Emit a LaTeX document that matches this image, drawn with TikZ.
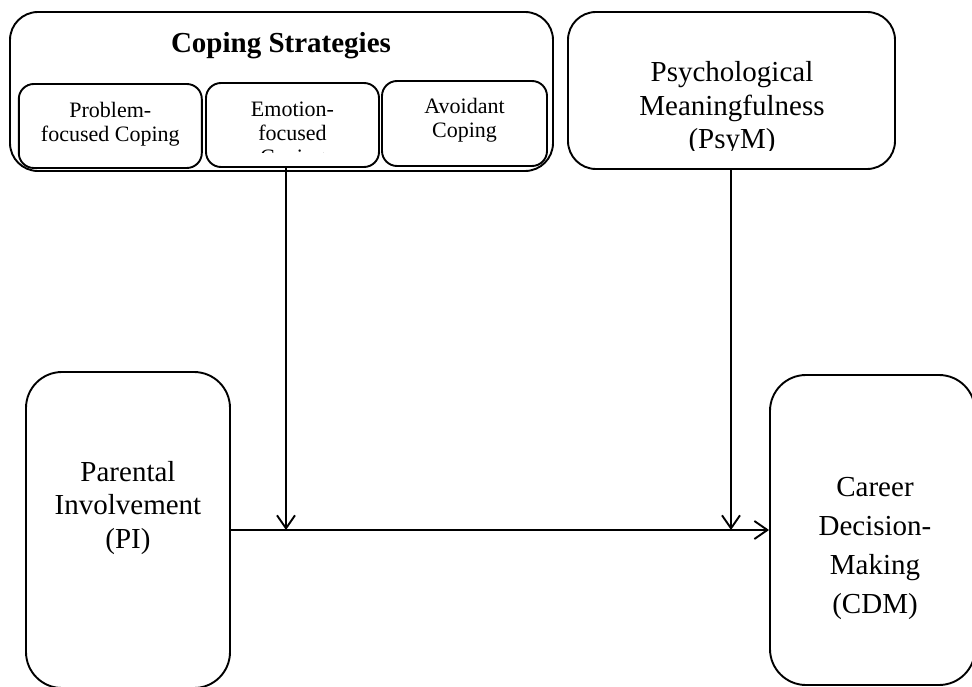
\documentclass[tikz,border=0pt]{standalone}
\usepackage{fontspec}
\setmainfont{Liberation Serif}
\usetikzlibrary{arrows.meta}
\begin{document}
\begin{tikzpicture}[x=1pt,y=-1pt,
  box/.style={draw, line width=1.9pt, rounded corners=#1, inner sep=0pt},
  box/.default=30pt,
  bigtext/.style={align=center, inner sep=0pt, font=\fontsize{29}{33.5}\selectfont},
  smalltext/.style={align=center, inner sep=0pt, font=\fontsize{22}{24}\selectfont},
  arr/.style={line width=1.9pt, -{Straight Barb[length=13pt,width=18pt]}}
]
\useasboundingbox (0,0) rectangle (972,687);
% Coping strategies group
\node[box=28pt, minimum width=543pt, minimum height=159pt] (Cope) at (281.5,91.5) {};
\node[inner sep=0pt, font=\fontsize{29}{33}\selectfont\bfseries] (CopeT) at (281,46) {Coping Strategies};
\node[box=15pt, minimum width=183pt, minimum height=84pt] (Prob) at (110.3,126) {};
\node[box=15pt, minimum width=173pt, minimum height=84pt] (Emo) at (292.5,125) {};
\node[box=15pt, minimum width=165pt, minimum height=85pt] (Avoid) at (464.5,123.5) {};
\node[smalltext] (ProbT) at (110.3,124.5) {Problem-\\focused Coping};
\begin{scope}
  \clip (0,0) rectangle (972,153);
  \node[smalltext] (EmoT) at (292.5,135.5) {Emotion-\\focused\\Coping};
\end{scope}
\node[smalltext] (AvoidT) at (464.5,120.5) {Avoidant\\Coping};
% Psychological meaningfulness
\node[box=28pt, minimum width=327pt, minimum height=157pt] (Psy) at (731.5,90.5) {};
\begin{scope}
  \clip (0,0) rectangle (972,151);
  \node[bigtext] (PsyT) at (732,108.5) {Psychological\\Meaningfulness\\(PsyM)};
\end{scope}
% Parental involvement
\node[box=36pt, minimum width=204pt, minimum height=316pt] (PI) at (128,530) {};
\node[bigtext] (PIT) at (128,508) {Parental\\Involvement\\(PI)};
% Career decision-making
\node[box=36pt, minimum width=205pt, minimum height=310pt] (CDM) at (872.5,530) {};
\node[bigtext, font=\fontsize{29}{39}\selectfont] (CDMT) at (875,548.5) {Career\\Decision-\\Making\\(CDM)};
% connectors
\coordinate (j1) at (286,530);
\coordinate (j2) at (731,530);
\draw[arr] (PI.east) -- (CDM.west);
\draw[arr] (Emo.south -| j1) -- (j1);
\draw[arr] (Psy.south -| j2) -- (j2);
\end{tikzpicture}
\end{document}
